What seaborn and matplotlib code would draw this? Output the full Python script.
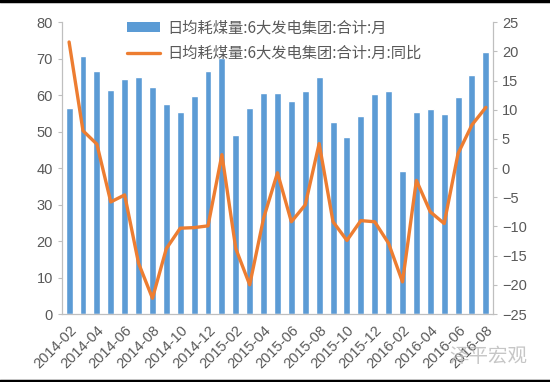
import numpy as np
import pandas as pd
import matplotlib
matplotlib.use('Agg')
import matplotlib.pyplot as plt
import seaborn as sns
from matplotlib.lines import Line2D
from matplotlib.patches import Patch

# data
months = pd.period_range('2014-02', '2016-08', freq='M').strftime('%Y-%m').tolist()
coal = [56.5, 70.7, 66.7, 61.4, 64.5, 64.9, 62.3, 57.6, 55.4, 59.8, 66.5, 70.2,
        49.0, 56.5, 60.5, 60.7, 58.3, 61.0, 64.9, 52.5, 48.6, 54.2, 60.3, 61.0,
        39.2, 55.4, 56.1, 54.9, 59.5, 65.4, 71.7]
yoy = [21.6, 6.4, 4.1, -5.8, -4.6, -16.3, -22.3, -13.8, -10.3, -10.2, -9.9, 2.3,
       -13.8, -20.0, -8.6, -0.8, -9.2, -6.3, 4.2, -9.2, -12.4, -9.0, -9.2, -12.9,
       -19.5, -2.1, -7.5, -9.5, 2.5, 7.4, 10.4]
bar_label = '日均耗煤量:6大发电集团:合计:月'
line_label = '日均耗煤量:6大发电集团:合计:月:同比'

df = pd.DataFrame({'month': months, 'coal': coal, 'yoy': yoy})
df['pos'] = np.arange(len(df))

sns.set_style('white')
plt.rcParams['font.family'] = ['Liberation Sans', 'Noto Sans CJK SC']
plt.rcParams['axes.unicode_minus'] = True

blue = '#5B9BD5'
orange = '#ED7D31'
grey = '#595959'
cjk = ['Noto Sans CJK SC', 'DejaVu Sans']

fig = plt.figure(figsize=(5.5, 3.82), dpi=100)
ax = fig.add_axes([0.113, 0.178, 0.783, 0.764])

sns.barplot(data=df, x='month', y='coal', color=blue, width=0.5,
            saturation=1, ax=ax)
ax.set_ylim(0, 80)
ax.set_yticks(range(0, 81, 10))
ax.set_xlim(-0.5, len(df) - 0.5)

ax2 = ax.twinx()
sns.lineplot(data=df, x='pos', y='yoy', color=orange, linewidth=2.4, ax=ax2)
ax2.set_ylim(-25, 25)
ax2.set_yticks(range(-25, 26, 5))
ax2.set_xlim(-0.5, len(df) - 0.5)

ax.set_xticks(df['pos'][::2])
ax.set_xticklabels(df['month'][::2], rotation=45, ha='right',
                   rotation_mode='anchor')
ax.set_xlabel('')
ax.set_ylabel('')
ax2.set_ylabel('')

for a in (ax, ax2):
    for s in a.spines.values():
        s.set_color('#BFBFBF')
    a.spines['top'].set_visible(False)
    a.tick_params(colors=grey, labelsize=10.5, length=0)
ax.tick_params(axis='x', length=3, color='#BFBFBF', labelsize=10.5)
ax.tick_params(axis='y', length=3, color='#BFBFBF', direction='out')
ax2.tick_params(axis='y', length=3, color='#BFBFBF', direction='out')

handles = [Patch(facecolor=blue, edgecolor='none'),
           Line2D([0], [0], color=orange, linewidth=2.4)]
leg = fig.legend(handles, [bar_label, line_label], loc='upper left',
                 bbox_to_anchor=(0.205, 0.985), frameon=False,
                 prop={'family': cjk, 'size': 11},
                 handlelength=2.2, handletextpad=0.5, labelspacing=0.55,
                 labelcolor=grey)

# screenshot border lines and watermark
fig.add_artist(Line2D([0, 1], [0.997, 0.997], color='black', linewidth=2.5,
                      transform=fig.transFigure))
fig.add_artist(Line2D([0, 1], [0.003, 0.003], color='black', linewidth=2.5,
                      transform=fig.transFigure))
fig.text(0.888, 0.068, '泽平宏观', fontsize=14, color='#B8B8B8', alpha=0.8,
         ha='center', va='center', family=cjk)

fig.savefig('out.png', dpi=100)
